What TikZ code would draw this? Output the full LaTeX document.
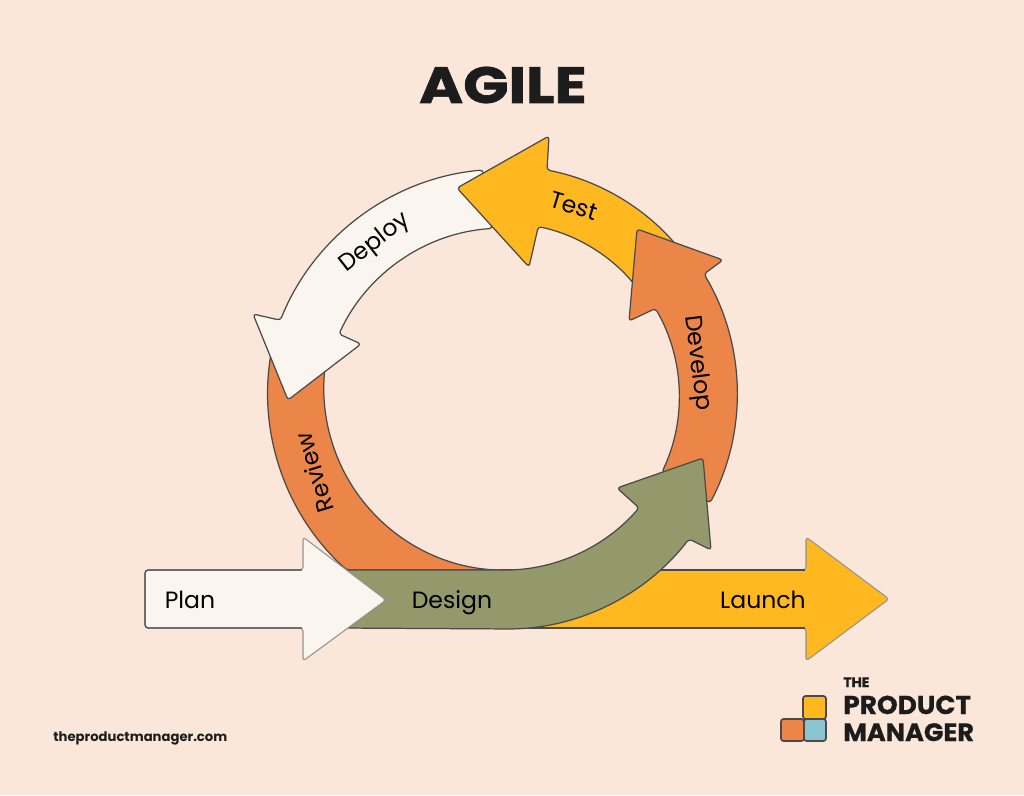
\documentclass[tikz,border=0pt]{standalone}
\usepackage{fontspec}
\setmainfont{Poppins}
\newfontfamily\titlefont[FakeStretch=1.17,FakeBold=1.3]{Poppins}
\newfontfamily\logofont[FakeStretch=1.02,FakeBold=0.6]{Poppins}
\usetikzlibrary{positioning}
\definecolor{bgpeach}{HTML}{FBE6DA}
\definecolor{cream}{HTML}{FAF6EF}
\definecolor{agorange}{HTML}{EC8548}
\definecolor{agyellow}{HTML}{FFB81F}
\definecolor{agolive}{HTML}{94996C}
\definecolor{agblue}{HTML}{8AC4D0}
\definecolor{edgegray}{HTML}{4A4A4A}
\definecolor{inkblack}{HTML}{1C1C1C}
\tikzset{
  arrowshape/.style={draw=edgegray, line width=0.7pt, rounded corners=1.8, line join=round},
  fainthead/.style={draw=edgegray!60, line width=0.6pt, rounded corners=1.8, line join=round},
  shaftline/.style={draw=edgegray, line width=0.7pt, rounded corners=1.8},
  looplabel/.style={text=black, inner sep=0pt, font=\fontsize{13.4}{16}\selectfont},
  flatlabel/.style={looplabel, anchor=base},
  logobox/.style={draw=edgegray, line width=1pt, rounded corners=1.5},
  logotext/.style={text=inkblack, inner sep=0pt, anchor=base west, font=\logofont\bfseries\fontsize{14.7}{16}\selectfont}
}
\begin{document}
\begin{tikzpicture}[x=0.02cm,y=-0.02cm]
    \fill[bgpeach] (0,0) rectangle (1024,795);
    \useasboundingbox (0,0) rectangle (1024,795);

    % straight arrow behind the loop
    \draw[fainthead, fill=agyellow] (500,570) -- (806,570) -- (806,537) -- (889,599) -- (806,661) -- (806,628) -- (500,628) -- cycle;
    \draw[shaftline] (500,570) -- (805,570);
    \draw[shaftline] (500,628) -- (805,628);

    % loop, last piece first
    \draw[arrowshape, fill=agorange] (274,339.5) arc[start angle=193,end angle=132,radius=238]
      -- (505,570) arc[start angle=90,end angle=193,radius=181] -- cycle;

    \draw[arrowshape, fill=cream] (483,170) arc[start angle=-95,end angle=-158.1,radius=241]
      -- (253,314) -- (288,400) -- (361,344) -- (339,334)
      arc[start angle=-155.3,end angle=-93.8,radius=182] -- cycle;

    \draw[arrowshape, fill=agyellow] (457,188) -- (549,136) -- (547,170)
      arc[start angle=-78.9,end angle=-40,radius=229]
      -- (634,284) arc[start angle=-40,end angle=-78.1,radius=171]
      -- (529,267) -- cycle;

    \draw[arrowshape, fill=agorange] (637,229) -- (723,260) -- (704,274)
      arc[start angle=-30.8,end angle=27.8,radius=234]
      -- (662,472) arc[start angle=25.4,end angle=-30,radius=176]
      -- (629,321) -- cycle;

    \draw[arrowshape, fill=agolive] (340,570) -- (503,570)
      arc[start angle=90,end angle=40.9,radius=180]
      -- (617,488) -- (703,458) -- (711,550) -- (689,539)
      arc[start angle=37.7,end angle=90,radius=231.5]
      -- (340,628) -- cycle;

    \draw[fainthead, fill=cream] (145,570) -- (303,570) -- (303,537) -- (386,600) -- (303,661) -- (303,628) -- (145,628) -- cycle;
    \draw[shaftline] (302,570) -- (145,570) -- (145,628) -- (302,628);

    % title and labels
    \node[text=inkblack, inner sep=0pt, font=\titlefont\bfseries\fontsize{29}{32}\selectfont] (title) at (503,85) {AGILE};
    \node[flatlabel] (plan) at (190,608) {Plan};
    \node[flatlabel] (design) at (452,608) {Design};
    \node[flatlabel] (launch) at (763,608) {Launch};
    \node[looplabel, rotate=107] (review) at (314,473) {Review};
    \node[looplabel, rotate=38] (deploy) at (375,243) {Deploy};
    \node[looplabel, rotate=-17] (test) at (574,206) {Test};
    \node[looplabel, rotate=-83] (develop) at (697,363) {Develop};

    % footer
    \node[text=inkblack, inner sep=0pt, anchor=west, font=\bfseries\fontsize{7.5}{10}\selectfont] (site) at (53,738) {theproductmanager.com};

    % logo
    \draw[logobox, fill=agyellow] (803,696) rectangle (826,719);
    \draw[logobox, fill=agorange] (781,719) rectangle (804,741);
    \draw[logobox, fill=agblue] (804,719) rectangle (826,741);
    \node[logotext, font=\logofont\bfseries\fontsize{7.8}{9}\selectfont] (logothe) at (843,687) {THE};
    \node[logotext] (logoproduct) at (843,714) {PRODUCT};
    \node[logotext, font=\logofont\bfseries\fontsize{14.3}{16}\selectfont] (logomanager) at (843,741) {MANAGER};
\end{tikzpicture}
\end{document}
